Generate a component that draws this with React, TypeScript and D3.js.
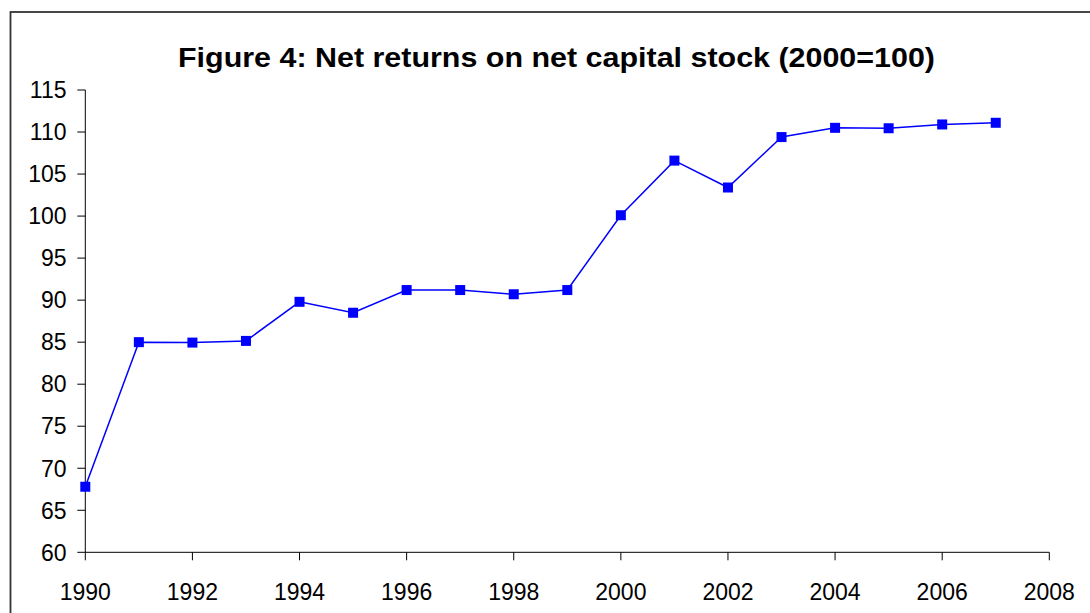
import React from "react";
import * as d3 from "d3";

const years = [1990, 1991, 1992, 1993, 1994, 1995, 1996, 1997, 1998, 1999, 2000, 2001, 2002, 2003, 2004, 2005, 2006, 2007];
const values = [67.8, 85.0, 84.95, 85.15, 89.8, 88.5, 91.2, 91.2, 90.7, 91.2, 100.1, 106.6, 103.4, 109.4, 110.5, 110.45, 110.9, 111.1];
const xTicks = [1990, 1992, 1994, 1996, 1998, 2000, 2002, 2004, 2006, 2008];
const yTicks = [60, 65, 70, 75, 80, 85, 90, 95, 100, 105, 110, 115];
const title = "Figure 4: Net returns on net capital stock (2000=100)";

const FONT = "'Comic Sans MS', 'Liberation Sans', Arial, sans-serif";

export default function App() {
  const W = 1090, H = 613;
  const left = 85.3, right = 1049.3, top = 90, bottom = 552.3;
  const x = d3.scaleLinear().domain([1990, 2008]).range([left, right]);
  const y = d3.scaleLinear().domain([60, 115]).range([bottom, top]);
  const line = d3.line<number>().x((_, i) => x(years[i])).y((d) => y(d));
  const ms = 10;
  return (
    <svg width={W} height={H} style={{ position: "absolute", left: 0, top: 0, background: "#fff" }}>
      <rect x={10.5} y={12} width={1200} height={800} fill="none" stroke="#333" strokeWidth={1.8} />
      <text x={556.5} y={66.7} textAnchor="middle" fontFamily={FONT} fontWeight="bold" fontSize={27} textLength={757} lengthAdjust="spacingAndGlyphs" fill="#000">{title}</text>
      {/* y axis */}
      <line x1={left} x2={left} y1={top} y2={bottom} stroke="#000" strokeWidth={1} />
      {yTicks.map((t) => (
        <g key={t}>
          <line x1={left - 8} x2={left} y1={y(t)} y2={y(t)} stroke="#000" strokeWidth={1} />
          <text x={66.5} y={y(t)} dy="0.36em" textAnchor="end" fontFamily={FONT} fontSize={23} fill="#000">{t}</text>
        </g>
      ))}
      {/* x axis */}
      <line x1={left} x2={right} y1={bottom} y2={bottom} stroke="#000" strokeWidth={1} />
      {xTicks.map((t) => (
        <g key={t}>
          <line x1={x(t)} x2={x(t)} y1={bottom} y2={bottom + 8} stroke="#000" strokeWidth={1} />
          <text x={x(t)} y={600} textAnchor="middle" fontFamily={FONT} fontSize={23} fill="#000">{t}</text>
        </g>
      ))}
      <path d={line(values) || ""} fill="none" stroke="#0000FF" strokeWidth={1.5} />
      {values.map((v, i) => (
        <rect key={i} x={x(years[i]) - ms / 2} y={y(v) - ms / 2} width={ms} height={ms} fill="#0000FF" />
      ))}
    </svg>
  );
}
